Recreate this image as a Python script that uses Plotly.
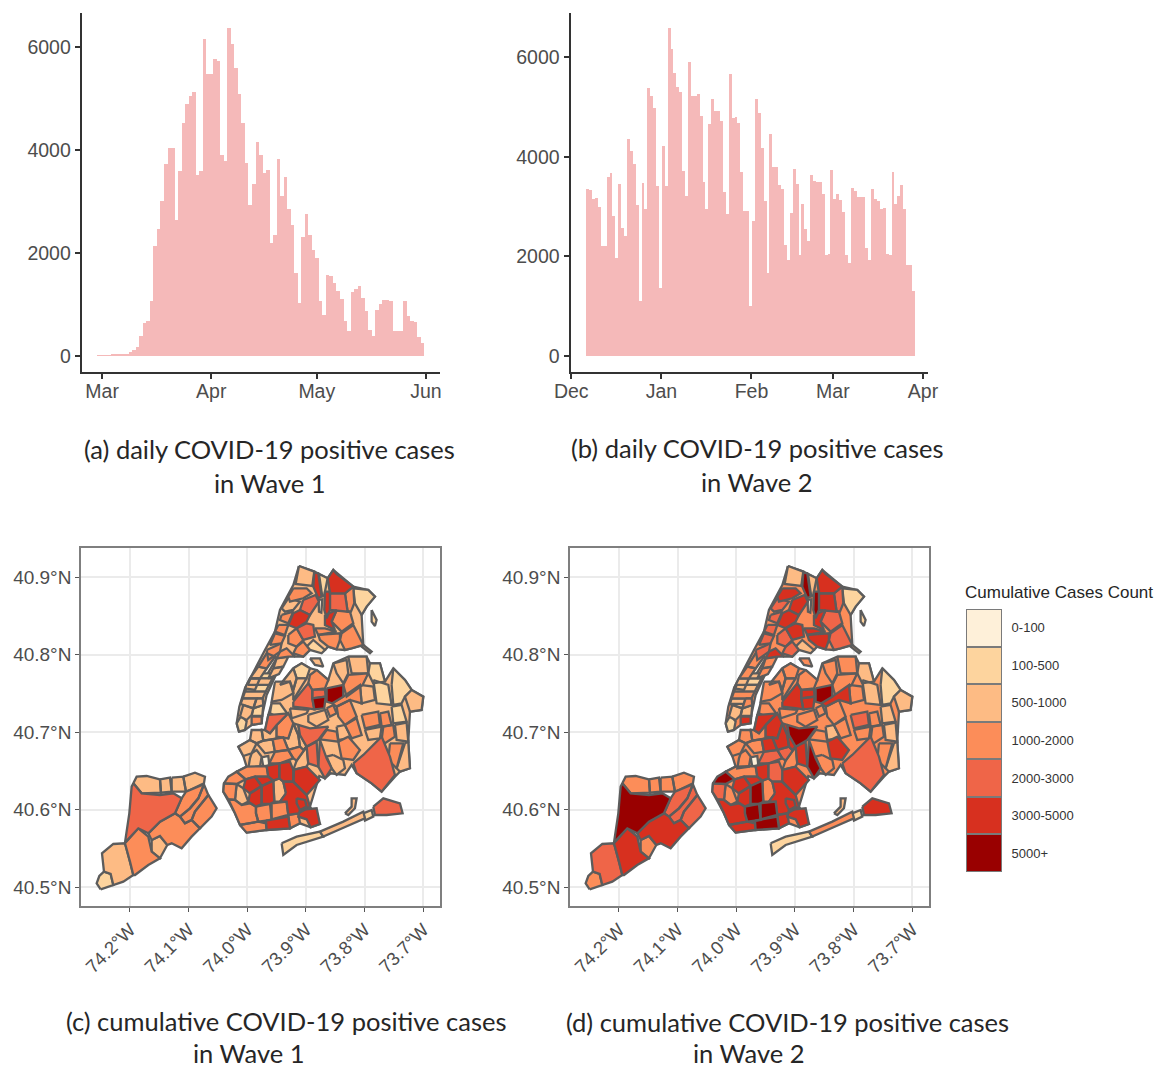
import numpy as np
import pandas as pd
import plotly.graph_objects as go

# ---------- daily positive cases ----------
wave1_dates = pd.date_range("2020-02-29", "2020-05-31", freq="D")
wave1_cases = [5, 5, 10, 10, 15, 15, 20, 25, 30, 65, 105, 170, 375, 635, 670, 1060, 2140, 2470, 3005, 3730,
               4030, 4030, 2635, 3590, 4515, 4885, 5050, 5135, 3510, 3590, 6150, 5470, 5470, 5760, 5730, 3895,
               3785, 6365, 6055, 5600, 5080, 4515, 3750, 2920, 3330, 4155, 3895, 3555, 3610, 2195, 2355, 3815,
               3100, 3470, 2855, 2540, 1610, 1025, 2310, 2745, 2355, 2050, 1900, 1060, 800, 1565, 1545, 1415,
               1255, 1105, 680, 475, 1240, 1305, 1350, 1120, 865, 505, 390, 895, 995, 1090, 1090, 1060, 485,
               475, 485, 1070, 765, 670, 655, 365, 245]
wave2_dates = pd.date_range("2020-12-06 12:00", periods=113, freq="D")
wave2_cases = [3342, 3328, 3140, 3160, 2993, 2214, 2214, 3597, 3677, 2805, 1966, 3456, 2570, 2402, 4362, 4113,
               3858, 3026, 1094, 3462, 2939, 5388, 5220, 4985, 3409, 1362, 4214, 3409, 6583, 6160, 5677, 5408,
               5301, 3711, 3207, 5905, 5220, 5220, 5254, 4818, 3496, 2939, 4650, 5153, 4918, 4918, 4717, 3288,
               2838, 5670, 4784, 4798, 4684, 3697, 2905, 2905, 1007, 2704, 5153, 4871, 4180, 3107, 1664, 4449,
               3791, 3791, 3429, 3342, 2234, 1932, 2858, 3744, 3456, 2033, 3040, 2536, 2302, 3630, 3509, 3496,
               3496, 3241, 2033, 2053, 3731, 3140, 3241, 3127, 2885, 2033, 1865, 3375, 3308, 3187, 3187, 3187,
               2167, 1932, 3355, 3140, 3107, 2939, 2959, 2053, 2033, 3684, 3040, 3207, 3436, 2939, 1832, 1832, 1308]

month_ticks_1 = ["2020-03-01", "2020-04-01", "2020-05-01", "2020-06-01"]
month_text_1 = ["Mar", "Apr", "May", "Jun"]
month_ticks_2 = ["2020-12-01", "2021-01-01", "2021-02-01", "2021-03-01", "2021-04-01"]
month_text_2 = ["Dec", "Jan", "Feb", "Mar", "Apr"]
case_ticks = [0, 2000, 4000, 6000]

# ---------- digitised zone outlines (map grid units, georeferenced below) ----------
U_REF, LON_REF, U_PER_DEG = 150, -74.2, 1760
V_REF, LAT_REF, V_PER_DEG = 82, 40.9, 2325

bin_labels = ["0-100", "100-500", "500-1000", "1000-2000", "2000-3000", "3000-5000", "5000+"]
bin_colors = ["#FEF0D9", "#FDD49E", "#FDBB84", "#FC8D59", "#EF6548", "#D7301F", "#990000"]

land_rings = [
    [(575,460),(585,420),(600,405),(640,355),(665,340),(690,355),(710,360),(745,390),(760,340),(805,320),(860,320),
     (870,340),(900,340),(915,395),(940,355),(975,390),(995,420),(1030,440),(1025,480),(990,485),(985,575),(990,655),
     (960,665),(945,680),(905,725),(875,700),(830,670),(815,645),(795,675),(752,670),(735,685),(718,678),(690,770),
     (720,822),(692,832),(660,820),(630,835),(560,840),(500,848),(480,825),(465,790),(430,725),(432,700),(470,665),
     (500,650),(490,618),(475,590),(510,570),(545,540),(555,545),(565,495),(575,460)],
    [(657,48),(703,65),(743,85),(760,60),(820,110),(865,120),(885,140),(860,170),(845,195),(850,285),(795,300),(770,298),
     (745,290),(735,300),(690,300),(670,320),(645,320),(620,300),(590,370),(560,435),(548,490),(545,520),(515,525),
     (495,540),(477,545),(470,520),(478,470),(495,415),(555,300),(585,245),(600,180),(640,105)],
]

staten_rings = [
    [(62,1018),(50,1000),(58,978),(72,965),(92,972),(100,1005)],
    [(72,965),(66,910),(100,882),(135,880),(150,935),(160,975),(130,995),(100,1005),(92,972)],
    [(135,880),(175,835),(205,860),(215,905),(240,925),(205,945),(165,975),(160,975),(150,935)],
    [(215,870),(240,858),(262,885),(240,925),(215,905)],
    [(160,700),(185,730),(240,735),(280,730),(305,745),(285,790),(240,815),(205,850),(175,835),(135,878),(148,790),(155,710)],
    [(160,700),(170,680),(200,678),(240,688),(243,728),(185,730)],
    [(240,688),(270,683),(275,725),(243,728)],
    [(275,683),(310,680),(318,725),(275,725)],
    [(310,680),(345,668),(375,680),(372,700),(330,720),(318,725)],
    [(305,745),(318,725),(372,703),(355,745),(330,775),(300,800),(285,790)],
    [(385,735),(410,775),(395,800),(360,835),(335,810),(345,785)],
    [(300,800),(330,775),(355,745),(372,703),(385,735),(345,785),(335,810),(315,820)],
    [(205,850),(240,815),(285,790),(300,800),(315,820),(335,810),(360,835),(335,860),(305,895),(275,880),(262,885),(240,858),(215,870)],
]
staten_w1 = [1, 2, 3, 2, 4, 2, 2, 2, 2, 3, 3, 3, 3]
staten_w2 = [3, 4, 5, 3, 6, 3, 3, 3, 3, 4, 4, 4, 5]

brooklyn_rings = [
    [(480,825),(535,815),(558,820),(560,840),(500,848)],
    [(558,812),(625,800),(630,835),(560,840)],
    [(528,770),(570,762),(575,810),(535,815),(528,790)],
    [(575,760),(620,755),(625,795),(575,808)],
    [(432,700),(445,680),(470,665),(497,688),(470,702)],
    [(432,700),(470,702),(465,750),(445,748),(430,725)],
    [(445,748),(465,750),(485,765),(510,760),(528,770),(528,790),(535,815),(480,825),(465,790)],
    [(465,750),(470,702),(490,715),(505,755),(485,765)],
    [(490,715),(497,688),(525,680),(545,708),(510,730)],
    [(505,755),(510,730),(545,708),(545,762),(528,770),(510,760)],
    [(545,708),(580,692),(583,755),(570,762),(545,762)],
    [(580,692),(598,685),(610,695),(618,730),(600,755),(583,755)],
    [(618,730),(610,695),(640,695),(680,735),(690,770),(655,790),(625,795),(620,755),(600,755)],
    [(497,688),(470,665),(500,650),(560,648),(565,680),(525,680)],
    [(525,680),(565,680),(580,692),(545,708)],
    [(560,648),(598,640),(598,685),(580,692),(565,680)],
    [(598,640),(630,635),(642,665),(640,695),(610,695),(598,685)],
    [(640,660),(680,650),(720,690),(680,735),(640,695)],
    [(660,780),(710,775),(720,822),(692,832),(680,808),(655,800)],
    [(625,795),(655,790),(660,820),(630,835)],
    [(650,745),(675,750),(680,770),(660,780),(650,760)],
    [(510,570),(515,540),(545,540),(550,572),(530,580)],
    [(475,590),(510,570),(530,580),(515,610),(490,618)],
    [(515,610),(530,600),(545,620),(540,650),(505,655),(510,625)],
    [(550,572),(578,568),(585,605),(555,610),(530,580)],
    [(578,568),(610,562),(625,600),(585,605)],
    [(585,605),(625,600),(640,625),(600,640),(568,640)],
    [(610,562),(625,565),(640,520),(655,555),(660,590),(625,600)],
    [(555,540),(565,495),(625,490),(590,525),(570,550)],
    [(590,525),(625,490),(640,520),(625,565),(590,560)],
    [(555,540),(570,550),(590,525),(590,560),(610,562),(578,568),(550,572),(545,540)],
    [(655,525),(690,535),(745,530),(715,570),(680,590),(660,555)],
    [(640,520),(655,525),(660,555),(680,590),(670,600),(660,590),(655,555)],
    [(660,590),(670,600),(680,590),(650,632),(640,625),(625,600)],
    [(680,590),(710,575),(715,650),(685,640)],
    [(720,570),(740,625),(755,655),(735,685),(715,650)],
    [(650,632),(680,590),(685,640),(680,650),(640,660)],
    [(545,622),(565,618),(568,645),(550,650)],
]
brooklyn_w1 = [3, 5, 3, 3, 3, 3, 3, 2, 5, 5, 5, 2, 5, 3, 5, 5, 5, 5, 5, 3, 5,
               2, 2, 2, 2, 3, 3, 2, 4, 3, 2, 4, 2, 3, 4, 4, 2, 0]
brooklyn_w2 = [5, 6, 6, 6, 6, 4, 5, 3, 5, 5, 6, 3, 5, 3, 5, 5, 4, 5, 5, 5, 5,
               3, 3, 3, 3, 5, 4, 5, 5, 5, 3, 6, 5, 4, 5, 6, 3, 0]

queens_rings = [
    [(585,395),(630,395),(640,430),(605,450),(575,455)],
    [(575,460),(600,460),(625,495),(590,500),(570,490)],
    [(640,455),(685,400),(697,420),(697,445),(703,478),(685,475),(640,470)],
    [(697,445),(737,440),(733,475),(703,478)],
    [(697,420),(735,418),(737,440),(697,445)],
    [(740,415),(790,405),(790,440),(757,460),(740,455)],
    [(685,495),(735,480),(745,510),(710,530),(685,515)],
    [(630,475),(685,480),(680,490),(635,505)],
    [(740,475),(760,465),(770,490),(750,500)],
    [(770,470),(810,450),(830,500),(795,525),(775,500)],
    [(795,525),(830,505),(845,555),(815,565)],
    [(845,495),(895,485),(900,525),(855,535)],
    [(840,405),(845,460),(885,450),(880,410)],
    [(880,390),(925,405),(935,465),(890,460)],
    [(855,540),(905,530),(900,565),(865,570)],
    [(900,490),(925,485),(935,525),(905,530)],
    [(910,530),(940,525),(945,560),(915,580),(905,570)],
    [(935,470),(965,465),(980,515),(940,520)],
    [(945,525),(980,518),(985,575),(950,570)],
    [(995,420),(1030,440),(1025,480),(990,485),(975,440)],
    [(935,405),(940,355),(975,390),(995,420),(975,440),(965,460),(940,465)],
    [(820,640),(850,615),(905,560),(930,620),(945,675),(905,725),(875,700),(830,670)],
    [(930,580),(970,580),(950,655),(925,630)],
    [(975,580),(985,575),(990,655),(960,665),(950,655)],
    [(760,615),(790,630),(795,655),(770,675),(755,655),(740,620)],
    [(740,540),(770,545),(775,575),(720,568)],
    [(775,575),(805,560),(840,600),(820,630),(785,625)],
    [(770,530),(795,525),(815,565),(775,570)],
    [(640,355),(665,340),(690,355),(680,385),(650,385)],
    [(600,405),(640,355),(650,385),(640,420),(630,395)],
    [(650,385),(680,385),(640,450),(640,420)],
    [(710,360),(745,390),(735,415),(697,420),(685,400),(690,375)],
    [(690,325),(720,325),(730,350),(705,345)],
    [(760,340),(800,330),(805,370),(790,400),(770,370)],
    [(805,320),(860,320),(865,370),(815,370)],
    [(790,405),(805,375),(865,370),(848,405),(800,440)],
    [(870,340),(900,340),(915,395),(880,400),(865,370)],
    [(790,440),(840,405),(845,460),(810,450),(770,470),(757,460)],
    [(605,880),(650,860),(720,845),(730,860),(650,885),(610,915)],
    [(720,845),(790,815),(850,785),(855,805),(780,838),(730,860)],
    [(850,790),(875,780),(880,800),(855,812)],
    [(880,770),(910,745),(960,760),(968,790),(920,795),(885,795)],
    [(795,790),(815,770),(815,745),(830,745),(825,775),(805,795)],
]
queens_w1 = [2, 1, 4, 6, 4, 6, 2, 2, 3, 3, 3, 3, 2, 1, 2, 3, 3, 1, 2, 2, 1, 4, 3, 2, 2, 3, 3, 2,
             1, 2, 2, 3, 2, 2, 2, 3, 1, 3, 1, 2, 1, 4, 2]
queens_w2 = [3, 3, 5, 5, 5, 6, 3, 3, 3, 3, 3, 4, 3, 2, 3, 3, 3, 2, 2, 2, 1, 4, 3, 2, 3, 3, 5, 2,
             3, 3, 3, 3, 3, 3, 3, 3, 2, 5, 1, 3, 1, 5, 2]

manhattan_rings = [
    [(470,520),(485,495),(500,515),(495,540),(477,545)],
    [(480,500),(490,465),(520,475),(515,495),(500,510)],
    [(515,500),(545,500),(545,520),(515,525)],
    [(520,475),(550,465),(547,498),(515,498)],
    [(482,462),(488,445),(530,445),(520,475),(490,465)],
    [(530,445),(548,445),(550,465),(520,475)],
    [(482,462),(488,445),(548,445),(540,462)],
    [(488,445),(495,425),(557,425),(548,445)],
    [(495,425),(503,405),(567,405),(557,425)],
    [(503,405),(512,385),(578,385),(567,405)],
    [(512,385),(522,370),(590,370),(578,385)],
    [(543,380),(585,320),(590,325),(553,388)],
    [(535,350),(560,310),(585,320),(560,355)],
    [(510,385),(535,350),(560,355),(540,385)],
    [(495,415),(510,385),(540,385),(525,420)],
    [(590,325),(625,320),(610,350),(580,355)],
    [(580,355),(610,350),(597,372),(565,385)],
    [(600,305),(620,295),(645,320),(625,320),(590,325)],
    [(640,115),(680,115),(695,130),(670,145),(630,155),(625,140)],
    [(625,145),(660,155),(640,180),(615,185),(605,175)],
    [(605,195),(640,185),(625,220),(600,210)],
    [(595,225),(625,225),(615,255),(585,245)],
    [(585,250),(615,258),(605,280),(570,285)],
    [(560,300),(605,280),(600,305),(565,330)],
]
manhattan_w1 = [1, 2, 3, 1, 2, 2, 1, 2, 1, 2, 1, 0, 3, 2, 2, 2, 2, 3, 3, 2, 3, 3, 3, 3]
manhattan_w2 = [1, 2, 5, 2, 2, 3, 2, 3, 2, 1, 2, 0, 3, 3, 2, 3, 3, 5, 5, 4, 4, 4, 4, 4]

bronx_rings = [
    [(657,48),(703,65),(697,108),(647,102)],
    [(703,68),(715,70),(725,140),(715,145),(700,110)],
    [(717,72),(743,85),(733,135),(727,140)],
    [(743,85),(760,60),(770,72),(820,110),(795,130),(750,130)],
    [(735,125),(750,125),(750,180),(740,205),(733,180)],
    [(750,130),(795,130),(803,185),(750,180)],
    [(795,130),(820,110),(823,160),(813,185),(803,185)],
    [(820,115),(865,120),(885,140),(860,170),(845,195),(825,160)],
    [(875,180),(890,210),(885,228),(875,215)],
    [(770,180),(810,185),(820,220),(785,245),(755,215)],
    [(735,195),(770,180),(755,215),(765,240),(735,225)],
    [(785,250),(820,225),(840,265),(850,285),(815,295),(795,300),(780,270)],
    [(715,255),(780,250),(780,270),(770,298),(745,290),(720,270)],
    [(680,290),(700,270),(735,300),(725,310),(690,300)],
    [(705,235),(735,235),(770,245),(715,255)],
    [(670,150),(707,135),(717,155),(690,195),(660,180)],
    [(640,190),(660,180),(690,195),(680,215),(650,235),(625,225)],
    [(680,220),(700,225),(705,260),(670,270),(650,235)],
    [(625,255),(650,235),(670,270),(650,290),(625,280)],
    [(650,290),(670,275),(690,300),(670,320),(640,310)],
    [(850,285),(875,305),(870,310),(845,290)],
    [(716,150),(727,148),(724,188),(717,185)],
]
bronx_w1 = [2, 5, 1, 5, 5, 4, 3, 1, 1, 3, 5, 3, 3, 1, 3, 4, 5, 4, 3, 3, 2, 0]
bronx_w2 = [2, 6, 2, 5, 6, 5, 4, 1, 1, 4, 5, 4, 5, 2, 5, 5, 5, 5, 4, 4, 2, 0]

zone_rings = staten_rings + brooklyn_rings + queens_rings + manhattan_rings + bronx_rings
wave1_bins = staten_w1 + brooklyn_w1 + queens_w1 + manhattan_w1 + bronx_w1
wave2_bins = staten_w2 + brooklyn_w2 + queens_w2 + manhattan_w2 + bronx_w2

lat_ticks = [40.5, 40.6, 40.7, 40.8, 40.9]
lat_text = ["40.5°N", "40.6°N", "40.7°N", "40.8°N", "40.9°N"]
lon_ticks = [-74.2, -74.1, -74.0, -73.9, -73.8, -73.7]
lon_text = ["74.2°W", "74.1°W", "74.0°W", "73.9°W", "73.8°W", "73.7°W"]

W, H = 1158, 1069
SANS = "Liberation Sans"
BAR_COLOR = "#F5B9B9"
TICK_GREY = "#4d4d4d"
EDGE = "#5c5c5c"
EDGE_WIDTH = 2.3


def dom_x(a, b):
    return [a / W, b / W]


def dom_y(top, bottom):
    return [1 - bottom / H, 1 - top / H]


def to_geo(rings):
    xs, ys = [], []
    for ring in rings:
        u = np.array([p[0] for p in ring] + [ring[0][0]], dtype=float)
        v = np.array([p[1] for p in ring] + [ring[0][1]], dtype=float)
        xs += list(LON_REF + (u - U_REF) / U_PER_DEG) + [None]
        ys += list(LAT_REF - (v - V_REF) / V_PER_DEG) + [None]
    return xs, ys


fig = go.Figure()
fig.add_bar(x=wave1_dates, y=wave1_cases, width=86400000, marker=dict(color=BAR_COLOR, line_width=0),
            xaxis="x", yaxis="y", showlegend=False)
fig.add_bar(x=wave2_dates, y=wave2_cases, width=86400000, marker=dict(color=BAR_COLOR, line_width=0),
            xaxis="x2", yaxis="y2", showlegend=False)


def add_map(bins, land_bin, xa, ya):
    lx, ly = to_geo(land_rings)
    fig.add_scatter(x=lx, y=ly, mode="lines", fill="toself", fillcolor=bin_colors[land_bin],
                    line=dict(color=EDGE, width=EDGE_WIDTH), xaxis=xa, yaxis=ya, showlegend=False, hoverinfo="skip")
    for k, color in enumerate(bin_colors):
        chosen = [ring for ring, b in zip(zone_rings, bins, strict=True) if b == k]
        if chosen:
            xs, ys = to_geo(chosen)
            fig.add_scatter(x=xs, y=ys, mode="lines", fill="toself", fillcolor=color,
                            line=dict(color=EDGE, width=EDGE_WIDTH), xaxis=xa, yaxis=ya,
                            showlegend=False, hoverinfo="skip")


add_map(wave1_bins, 2, "x3", "y3")
add_map(wave2_bins, 3, "x4", "y4")

fig.add_bar(x=[1] * 7, y=bin_labels, orientation="h", xaxis="x5", yaxis="y5", showlegend=False,
            marker=dict(color=bin_colors, line=dict(color="#7a7a7a", width=2)))

time_axis = dict(type="date", automargin=False, showgrid=False, zeroline=False, showline=True, linecolor="#333333",
                 linewidth=2, ticks="outside", ticklen=5, tickwidth=2, tickcolor="#333333", ticklabelstandoff=-4,
                 tickfont=dict(family=SANS, size=19.5, color=TICK_GREY))
case_axis = dict(automargin=False, showgrid=False, zeroline=False, showline=True, linecolor="#333333", linewidth=2,
                 ticks="outside", ticklen=5, tickwidth=2, tickcolor="#333333", tickvals=case_ticks,
                 tickfont=dict(family=SANS, size=19.5, color=TICK_GREY))
lon_axis = dict(automargin=False, range=[-74.2835, -73.6715], tickvals=lon_ticks, ticktext=lon_text, tickangle=-45,
                showgrid=True, gridcolor="#ebebeb", gridwidth=2, zeroline=False, showline=True,
                linecolor="#7f7f7f", linewidth=1.5, mirror=True, ticks="outside", ticklen=4,
                tickcolor="#555555", tickfont=dict(family=SANS, size=18.5, color=TICK_GREY))
lat_axis = dict(automargin=False, range=[40.4759, 40.9378], tickvals=lat_ticks, ticktext=lat_text,
                showgrid=True, gridcolor="#ebebeb", gridwidth=2, zeroline=False, showline=True,
                linecolor="#7f7f7f", linewidth=1.5, mirror=True, ticks="outside", ticklen=4,
                tickcolor="#555555", tickfont=dict(family=SANS, size=19, color=TICK_GREY))

captions = [("(a) daily COVID-19 positive cases", 269, 449), ("in Wave 1", 270, 483),
            ("(b) daily COVID-19 positive cases", 757, 448), ("in Wave 2", 757, 482),
            ("(c) cumulative COVID-19 positive cases", 286, 1021), ("in Wave 1", 249, 1053),
            ("(d) cumulative COVID-19 positive cases", 787, 1022), ("in Wave 2", 749, 1053)]
annotations = [dict(text=t, x=x / W, y=1 - y / H, xref="paper", yref="paper", showarrow=False,
                    xanchor="center", yanchor="middle", font=dict(family="Lato", size=25.5, color="#262626"))
               for t, x, y in captions]
annotations.append(dict(text="Cumulative Cases Count", x=963 / W, y=1 - 592 / H, xref="paper", yref="paper",
                        showarrow=False, xanchor="left", yanchor="middle",
                        font=dict(family=SANS, size=17, color="#262626")))

fig.update_layout(
    width=W, height=H, autosize=False, margin=dict(l=0, r=0, t=0, b=0),
    paper_bgcolor="white", plot_bgcolor="white", barmode="overlay", bargap=0, showlegend=False,
    xaxis=dict(time_axis, domain=dom_x(81.7, 440), anchor="y", range=["2020-02-24 05:00", "2020-06-05"],
               tickvals=month_ticks_1, ticktext=month_text_1),
    yaxis=dict(case_axis, domain=dom_y(13.3, 372), anchor="x", range=[-312, 6663]),
    xaxis2=dict(time_axis, domain=dom_x(570.5, 928), anchor="y2", range=["2020-11-30 18:00", "2021-04-02 17:00"],
                tickvals=month_ticks_2, ticktext=month_text_2),
    yaxis2=dict(case_axis, domain=dom_y(13.3, 372), anchor="x2", range=[-322, 6886]),
    xaxis3=dict(lon_axis, domain=dom_x(81, 440), anchor="y3"),
    yaxis3=dict(lat_axis, domain=dom_y(548, 906), anchor="x3"),
    xaxis4=dict(lon_axis, domain=dom_x(570, 929), anchor="y4"),
    yaxis4=dict(lat_axis, domain=dom_y(548, 906), anchor="x4"),
    xaxis5=dict(domain=dom_x(966, 1002), anchor="y5", range=[0, 1], visible=False, automargin=False),
    yaxis5=dict(domain=dom_y(609, 872), anchor="x5", side="right", type="category", categoryorder="array",
                categoryarray=bin_labels[::-1], showgrid=False, zeroline=False, showline=False, automargin=False,
                ticks="outside", ticklen=6, tickcolor="rgba(0,0,0,0)",
                tickfont=dict(family=SANS, size=13, color="#333333")),
    annotations=annotations,
)

fig.write_html("out.html", config={"displayModeBar": False},
               post_script="document.body.style.margin='0';document.documentElement.style.overflow='hidden';")
